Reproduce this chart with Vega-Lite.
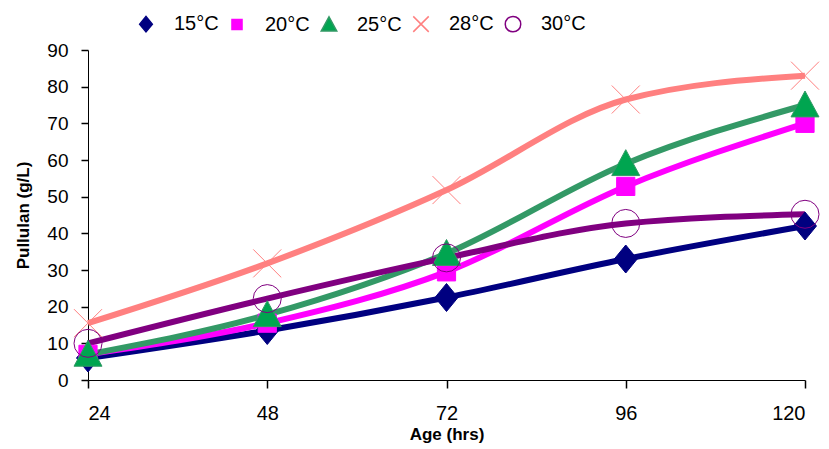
{
  "$schema": "https://vega.github.io/schema/vega-lite/v6.json",
  "width": 717,
  "height": 330,
  "autosize": {"type": "none"},
  "padding": {"left": 88, "top": 50, "right": 24, "bottom": 69},
  "background": "white",
  "config": {
    "view": {"stroke": null},
    "font": "Liberation Sans",
    "axis": {"grid": false, "domainColor": "black", "tickColor": "black", "labelColor": "black", "titleColor": "black", "labelFont": "Liberation Sans", "titleFont": "Liberation Sans", "labelFontSize": 19, "titleFontSize": 17, "titleFontWeight": "bold", "domainWidth": 1, "tickWidth": 1.5},
    "legend": {"title": null, "orient": "none", "legendX": 48, "legendY": -36, "direction": "horizontal", "labelFontSize": 20, "labelFont": "Liberation Sans", "labelColor": "black", "symbolSize": 240, "labelOffset": 18, "columnPadding": 8, "symbolStrokeWidth": 1.5}
  },
  "data": {
    "values": [
      {"age": 24, "series": "15°C", "value": 6},
      {"age": 48, "series": "15°C", "value": 13.5},
      {"age": 72, "series": "15°C", "value": 22.5},
      {"age": 96, "series": "15°C", "value": 33},
      {"age": 120, "series": "15°C", "value": 42},
      {"age": 24, "series": "20°C", "value": 7},
      {"age": 48, "series": "20°C", "value": 15.5},
      {"age": 72, "series": "20°C", "value": 29.5},
      {"age": 96, "series": "20°C", "value": 52.8},
      {"age": 120, "series": "20°C", "value": 70},
      {"age": 24, "series": "25°C", "value": 7},
      {"age": 48, "series": "25°C", "value": 17.8},
      {"age": 72, "series": "25°C", "value": 34.5},
      {"age": 96, "series": "25°C", "value": 59},
      {"age": 120, "series": "25°C", "value": 75},
      {"age": 24, "series": "28°C", "value": 15.5},
      {"age": 48, "series": "28°C", "value": 31.8},
      {"age": 72, "series": "28°C", "value": 51.8},
      {"age": 96, "series": "28°C", "value": 76.5},
      {"age": 120, "series": "28°C", "value": 83},
      {"age": 24, "series": "30°C", "value": 10},
      {"age": 48, "series": "30°C", "value": 22.2},
      {"age": 72, "series": "30°C", "value": 33.3},
      {"age": 96, "series": "30°C", "value": 42.7},
      {"age": 120, "series": "30°C", "value": 45.2}
    ]
  },
  "encoding": {
    "x": {"field": "age", "type": "quantitative", "scale": {"domain": [24, 120], "nice": false, "zero": false},
      "axis": {"values": [24, 48, 72, 96, 120], "title": "Age (hrs)", "labelPadding": 15, "tickSize": 8, "titlePadding": 3, "labelFontSize": 20}},
    "y": {"field": "value", "type": "quantitative", "scale": {"domain": [0, 90], "nice": false},
      "axis": {"values": [0, 10, 20, 30, 40, 50, 60, 70, 80, 90], "title": "Pullulan (g/L)", "tickSize": 7, "labelPadding": 13, "titlePadding": 14, "titleFontSize": 17}}
  },
  "layer": [
    {
      "mark": {"type": "line", "interpolate": "monotone", "strokeWidth": 6},
      "encoding": {
        "stroke": {"field": "series", "type": "nominal", "scale": {"domain": ["15°C", "20°C", "25°C", "28°C", "30°C"], "range": ["#000080", "#FF00FF", "#339966", "#FF8080", "#800080"]}}
      }
    },
    {
      "mark": {"type": "point", "filled": false, "size": 784, "opacity": 1, "strokeWidth": 1},
      "encoding": {
        "shape": {"field": "series", "type": "nominal", "scale": {"domain": ["15°C", "20°C", "25°C", "28°C", "30°C"], "range": ["M0,-1L0.82,0L0,1L-0.82,0Z", "M-0.65,-0.65H0.65V0.65H-0.65Z", "M0,-1L1,0.85L-1,0.85Z", "M-1,-1L1,1M-1,1L1,-1", "circle"]}},
        "fill": {"field": "series", "type": "nominal", "scale": {"domain": ["15°C", "20°C", "25°C", "28°C", "30°C"], "range": ["#000080", "#FF00FF", "#00A550", "transparent", "transparent"]}},
        "stroke": {"field": "series", "type": "nominal"}
      }
    }
  ]
}
